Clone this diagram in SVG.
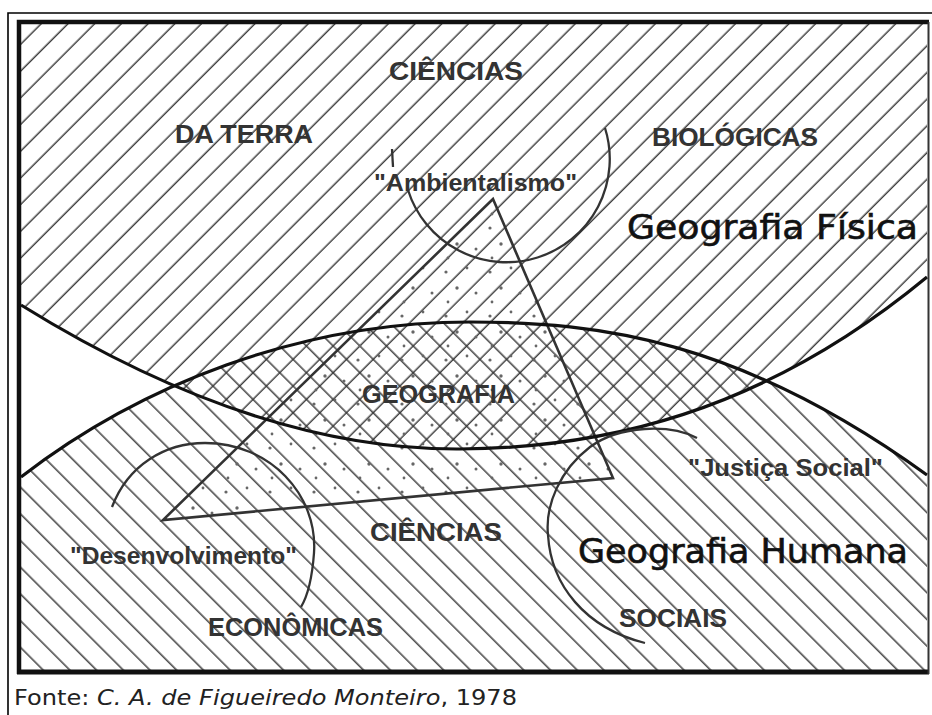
<svg xmlns="http://www.w3.org/2000/svg" width="932" height="715" viewBox="0 0 932 715">
<style>
.lbl{font-family:"Liberation Sans",Arial,sans-serif;font-weight:bold;font-size:25px;fill:#333}
.q{font-family:"Liberation Sans",Arial,sans-serif;font-weight:bold;font-size:24px;fill:#333}
.big{font-family:"DejaVu Sans","Noto Sans",sans-serif;font-size:33px;fill:#111;stroke:#111;stroke-width:0.6}
.cap{font-family:"DejaVu Sans","Noto Sans",sans-serif;font-size:21px;fill:#222}
.curve{fill:none;stroke:#111;stroke-width:3.2}
.arc{fill:none;stroke:#333;stroke-width:2.3}
</style>
<defs>
<pattern id="hatchUp" patternUnits="userSpaceOnUse" width="20" height="18.88" patternTransform="rotate(-45)">
<line x1="0" y1="8.2" x2="20" y2="8.2" stroke="#333" stroke-width="1.4"/>
</pattern>
<pattern id="hatchDown" patternUnits="userSpaceOnUse" width="20" height="18.88" patternTransform="rotate(45)">
<line x1="0" y1="9.1" x2="20" y2="9.1" stroke="#333" stroke-width="1.4"/>
</pattern>
<pattern id="dots" patternUnits="userSpaceOnUse" width="44" height="44">
<g fill="#666">
<circle cx="6" cy="8" r="1.6"/><circle cx="27" cy="4" r="1.4"/><circle cx="17" cy="24" r="1.7"/>
<circle cx="36" cy="29" r="1.5"/><circle cx="8" cy="38" r="1.4"/>
</g>
</pattern>
</defs>
<rect x="0" y="0" width="932" height="715" fill="#fff"/>

<g id="regions">
<path id="fisica" d="M21,24 H927 V277 C760,415 600,448 460,449 C300,450 150,385 21,305 Z" fill="url(#hatchUp)"/>
<path id="humana" d="M21,477 C140,385 300,322 470,322 C600,322 740,340 927,475 V670 H21 Z" fill="url(#hatchDown)"/>
</g>

<g id="triangle">
<path d="M493,199 L163,520 L613,478 Z" fill="url(#dots)"/>
<path d="M493,199 L163,520 L613,478 Z" fill="none" stroke="#333" stroke-width="2.6" stroke-linejoin="miter"/>
</g>

<g id="connectors">
<path class="curve" d="M21,305 C150,385 300,450 460,449 C600,448 760,415 927,277"/>
<path class="curve" d="M21,477 C140,385 300,322 470,322 C600,322 740,340 927,475"/>
<path class="arc" d="M605,128 A103,103 0 0 1 408,190"/>
<path class="arc" d="M112,507 C128,465 165,443 205,443 C270,443 318,495 314,553 C312,580 307,597 301,607"/>
<path class="arc" d="M697,438 C670,424 620,425 590,447 C560,470 545,505 548,535 C551,585 585,628 645,643"/>
<path class="arc" d="M392,149 L393,167" stroke-width="2"/>
</g>

<g id="labels">
<text id="ciencias-top" class="lbl" x="389" y="80" textLength="134" lengthAdjust="spacingAndGlyphs">CIÊNCIAS</text>
<text id="da-terra" class="lbl" x="175" y="143" textLength="138" lengthAdjust="spacingAndGlyphs">DA TERRA</text>
<text id="biologicas" class="lbl" x="652" y="146" textLength="166" lengthAdjust="spacingAndGlyphs">BIOLÓGICAS</text>
<text id="ambientalismo" class="q" x="374" y="191" textLength="203" lengthAdjust="spacingAndGlyphs">"Ambientalismo"</text>
<text id="geografia" class="lbl" x="362" y="403" textLength="153" lengthAdjust="spacingAndGlyphs">GEOGRAFIA</text>
<text id="justica" class="q" x="688" y="476" textLength="195" lengthAdjust="spacingAndGlyphs">"Justiça Social"</text>
<text id="desenvolvimento" class="q" x="70" y="564" textLength="227" lengthAdjust="spacingAndGlyphs">"Desenvolvimento"</text>
<text id="ciencias-bottom" class="lbl" x="370" y="541" textLength="132" lengthAdjust="spacingAndGlyphs">CIÊNCIAS</text>
<text id="economicas" class="lbl" x="208" y="636" textLength="175" lengthAdjust="spacingAndGlyphs">ECONÔMICAS</text>
<text id="sociais" class="lbl" x="619" y="627" textLength="108" lengthAdjust="spacingAndGlyphs">SOCIAIS</text>
<text id="geo-fisica" class="big" x="627" y="239" textLength="291" lengthAdjust="spacingAndGlyphs">Geografia Física</text>
<text id="geo-humana" class="big" x="578" y="563" textLength="330" lengthAdjust="spacingAndGlyphs">Geografia Humana</text>
</g>

<g id="frame">
<path d="M19,674 V22 H929" fill="none" stroke="#111" stroke-width="4.5"/>
<path d="M17,672 H929" fill="none" stroke="#111" stroke-width="5"/>
<path d="M928.5,22 V674" fill="none" stroke="#333" stroke-width="2"/>
<path d="M8,715 V13 H932" fill="none" stroke="#000" stroke-width="1.6"/>
</g>

<text id="caption" class="cap" x="14" y="705" textLength="503" lengthAdjust="spacingAndGlyphs">Fonte: <tspan font-style="italic">C. A. de Figueiredo Monteiro</tspan>, 1978</text>
</svg>
